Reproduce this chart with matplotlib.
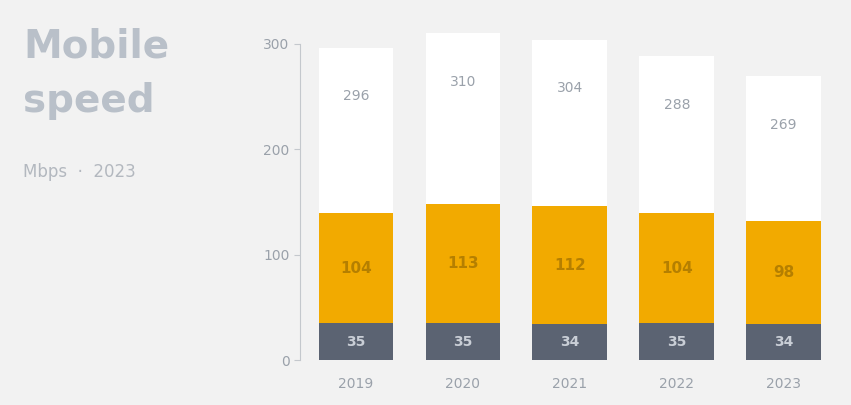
import numpy as np
import matplotlib.pyplot as plt

# data
years = ['2019', '2020', '2021', '2022', '2023']
base = [35, 35, 34, 35, 34]
middle = [104, 113, 112, 104, 98]
top = [157, 162, 158, 149, 137]

bg = '#f2f2f2'
c_base = '#5b6372'
c_mid = '#f2aa00'
c_top = '#ffffff'
c_text = '#9aa1aa'

fig = plt.figure(figsize=(8.51, 4.05), dpi=100, facecolor=bg)
ax = fig.add_axes([0.3525, 0.111, 0.635, 0.82])
ax.set_facecolor(bg)

x = np.arange(len(years))
w = 0.70
b1 = np.array(base)
b2 = b1 + np.array(middle)
tot = b2 + np.array(top)

ax.bar(x, base, w, color=c_base, zorder=2)
ax.bar(x, middle, w, bottom=b1, color=c_mid, zorder=2)
ax.bar(x, top, w, bottom=b2, color=c_top, zorder=2)

for i in range(len(years)):
    ax.text(x[i], b1[i] / 2, str(base[i]), ha='center', va='center',
            color='#c9ced6', fontsize=10, fontweight='bold', zorder=3)
    ax.text(x[i], b1[i] + middle[i] / 2, str(middle[i]), ha='center', va='center',
            color='#b57f00', fontsize=11, fontweight='bold', zorder=3)
    ax.text(x[i], tot[i] - 46, str(tot[i]), ha='center', va='center',
            color=c_text, fontsize=10, zorder=3)

ax.set_xlim(-0.524, 4.53)
ax.set_ylim(0, 315)
ax.set_yticks([0, 100, 200, 300])
ax.set_xticks(x)
ax.set_xticklabels(years)
ax.tick_params(axis='y', colors='#c4c8cd', labelcolor=c_text, labelsize=10, length=4)
ax.tick_params(axis='x', length=0, labelcolor=c_text, labelsize=10, pad=12)
for s in ['top', 'right', 'bottom']:
    ax.spines[s].set_visible(False)
ax.spines['left'].set_color('#c4c8cd')
ax.spines['left'].set_bounds(0, 300)

fig.text(0.027, 0.885, 'Mobile', fontsize=28, fontweight='bold', color='#b9c0c9', va='center')
fig.text(0.027, 0.75, 'speed', fontsize=28, fontweight='bold', color='#b9c0c9', va='center')
fig.text(0.027, 0.575, 'Mbps  \u00b7  2023', fontsize=12, color='#b3b8bf', va='center')

plt.savefig('out.png', dpi=100, facecolor=bg)
